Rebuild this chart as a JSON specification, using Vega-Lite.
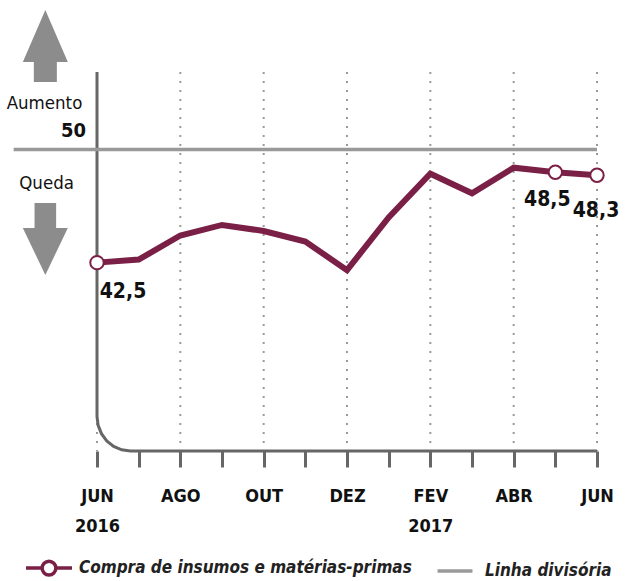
{
  "$schema": "https://vega.github.io/schema/vega-lite/v6.json",
  "width": 500,
  "height": 379,
  "autosize": {"type": "none"},
  "padding": {"left": 97, "top": 72, "right": 29, "bottom": 130},
  "background": "white",
  "config": {
    "view": {"stroke": null},
    "locale": {"number": {"decimal": ",", "thousands": ".", "grouping": [3], "currency": ["R$", ""]}},
    "font": "Liberation Sans Narrow, DejaVu Sans Condensed, Roboto, sans-serif"
  },
  "datasets": {
    "serie": [
      {"m": 0, "v": 42.5, "mes": "jun/2016", "serie": "Compra de insumos e matérias-primas"},
      {"m": 1, "v": 42.7, "mes": "jul/2016", "serie": "Compra de insumos e matérias-primas"},
      {"m": 2, "v": 44.3, "mes": "ago/2016", "serie": "Compra de insumos e matérias-primas"},
      {"m": 3, "v": 45.0, "mes": "set/2016", "serie": "Compra de insumos e matérias-primas"},
      {"m": 4, "v": 44.6, "mes": "out/2016", "serie": "Compra de insumos e matérias-primas"},
      {"m": 5, "v": 43.9, "mes": "nov/2016", "serie": "Compra de insumos e matérias-primas"},
      {"m": 6, "v": 42.0, "mes": "dez/2016", "serie": "Compra de insumos e matérias-primas"},
      {"m": 7, "v": 45.5, "mes": "jan/2017", "serie": "Compra de insumos e matérias-primas"},
      {"m": 8, "v": 48.4, "mes": "fev/2017", "serie": "Compra de insumos e matérias-primas"},
      {"m": 9, "v": 47.1, "mes": "mar/2017", "serie": "Compra de insumos e matérias-primas"},
      {"m": 10, "v": 48.8, "mes": "abr/2017", "serie": "Compra de insumos e matérias-primas"},
      {"m": 11, "v": 48.5, "mes": "mai/2017", "serie": "Compra de insumos e matérias-primas"},
      {"m": 12, "v": 48.3, "mes": "jun/2017", "serie": "Compra de insumos e matérias-primas"}
    ],
    "frame": [
      {"i": 0, "m": 0, "v": 55.15},
      {"i": 1, "m": 0, "v": 32.3},
      {"i": 2, "m": 0.027, "v": 31.7},
      {"i": 3, "m": 0.107, "v": 31.15},
      {"i": 4, "m": 0.234, "v": 30.67},
      {"i": 5, "m": 0.4, "v": 30.31},
      {"i": 6, "m": 0.593, "v": 30.08},
      {"i": 7, "m": 0.8, "v": 30},
      {"i": 8, "m": 12, "v": 30}
    ],
    "grid": [{"m": 0}, {"m": 2}, {"m": 4}, {"m": 6}, {"m": 8}, {"m": 10}, {"m": 12}],
    "divisoria": [{"m": -2, "m2": 12, "v": 50, "serie": "Linha divisória"}],
    "legenda": [
      {"serie": "Compra de insumos e matérias-primas"},
      {"serie": "Linha divisória"}
    ],
    "textos": [
      {"m": -1.26, "v": 53.09, "t": "Aumento"},
      {"m": -1.21, "v": 47.78, "t": "Queda"}
    ],
    "cinquenta": [{"m": -0.264, "v": 51.23, "t": "50"}],
    "seta_cima": [{"m": -1.24, "v": 56.87}],
    "seta_baixo": [{"m": -1.24, "v": 44.07}]
  },
  "encoding": {
    "x": {
      "field": "m",
      "type": "quantitative",
      "scale": {"domain": [0, 12], "nice": false, "zero": false},
      "axis": {
        "title": null,
        "values": [0, 1, 2, 3, 4, 5, 6, 7, 8, 9, 10, 11, 12],
        "domain": false,
        "grid": false,
        "ticks": true,
        "tickSize": 16,
        "tickWidth": 3,
        "tickColor": "#666666",
        "labelExpr": "datum.value == 0 ? ['JUN', '2016'] : datum.value == 2 ? 'AGO' : datum.value == 4 ? 'OUT' : datum.value == 6 ? 'DEZ' : datum.value == 8 ? ['FEV', '2017'] : datum.value == 10 ? 'ABR' : datum.value == 12 ? 'JUN' : ''",
        "labelFontWeight": "bold",
        "labelFontSize": 18,
        "labelColor": "#111111",
        "labelLineHeight": 30,
        "labelPadding": 20,
        "labelBaseline": "top",
        "labelFlush": false,
        "labelOverlap": false
      }
    }
  },
  "layer": [
    {
      "data": {"name": "grid"},
      "mark": {"type": "rule", "stroke": "#9a9a9a", "strokeWidth": 2, "strokeDash": [2, 7]},
      "encoding": {}
    },
    {
      "data": {"name": "frame"},
      "mark": {"type": "line", "stroke": "#666666", "strokeWidth": 3, "clip": false},
      "encoding": {
        "y": {"field": "v", "type": "quantitative", "scale": {"domain": [30, 55.15], "nice": false, "zero": false}, "axis": null},
        "order": {"field": "i", "type": "quantitative"}
      }
    },
    {
      "data": {"name": "divisoria"},
      "mark": {"type": "rule", "strokeWidth": 3.5, "clip": false},
      "encoding": {
        "x2": {"field": "m2"},
        "y": {"field": "v", "type": "quantitative"},
        "color": {
          "field": "serie",
          "type": "nominal",
          "scale": {"domain": ["Compra de insumos e matérias-primas", "Linha divisória"], "range": ["#7a1f45", "#999999"]}
        }
      }
    },
    {
      "data": {"name": "serie"},
      "mark": {"type": "line", "strokeWidth": 6, "strokeJoin": "miter"},
      "encoding": {
        "y": {"field": "v", "type": "quantitative"},
        "color": {"field": "serie", "type": "nominal"}
      }
    },
    {
      "data": {"name": "serie"},
      "transform": [{"filter": "datum.m == 0 || datum.m >= 11"}],
      "mark": {"type": "point", "shape": "circle", "filled": true, "fill": "white", "stroke": "#7a1f45", "strokeWidth": 2, "size": 180, "opacity": 1},
      "encoding": {"y": {"field": "v", "type": "quantitative"}}
    },
    {
      "data": {"name": "serie"},
      "transform": [{"filter": "datum.m == 0"}],
      "mark": {"type": "text", "fontWeight": "bold", "fontSize": 21, "color": "#111111", "align": "center", "baseline": "middle", "dx": 26, "dy": 29},
      "encoding": {"y": {"field": "v", "type": "quantitative"}, "text": {"field": "v", "type": "quantitative", "format": ".1f"}}
    },
    {
      "data": {"name": "serie"},
      "transform": [{"filter": "datum.m == 11"}],
      "mark": {"type": "text", "fontWeight": "bold", "fontSize": 21, "color": "#111111", "align": "center", "baseline": "middle", "dx": -8, "dy": 28},
      "encoding": {"y": {"field": "v", "type": "quantitative"}, "text": {"field": "v", "type": "quantitative", "format": ".1f"}}
    },
    {
      "data": {"name": "serie"},
      "transform": [{"filter": "datum.m == 12"}],
      "mark": {"type": "text", "fontWeight": "bold", "fontSize": 21, "color": "#111111", "align": "center", "baseline": "middle", "dx": -1, "dy": 36},
      "encoding": {"y": {"field": "v", "type": "quantitative"}, "text": {"field": "v", "type": "quantitative", "format": ".1f"}}
    },
    {
      "data": {"name": "textos"},
      "mark": {"type": "text", "fontSize": 18.5, "color": "#111111", "align": "center", "baseline": "middle"},
      "encoding": {"y": {"field": "v", "type": "quantitative"}, "text": {"field": "t"}}
    },
    {
      "data": {"name": "cinquenta"},
      "mark": {"type": "text", "fontWeight": "bold", "fontSize": 20, "color": "#111111", "align": "right", "baseline": "middle"},
      "encoding": {"y": {"field": "v", "type": "quantitative"}, "text": {"field": "t"}}
    },
    {
      "data": {"name": "seta_cima"},
      "mark": {"type": "point", "shape": "M0,-1 L0.625,0.444 L0.32,0.444 L0.32,1 L-0.32,1 L-0.32,0.444 L-0.625,0.444 Z", "filled": true, "fill": "#8c8c8c", "strokeWidth": 0, "size": 5184, "opacity": 1},
      "encoding": {"y": {"field": "v", "type": "quantitative"}}
    },
    {
      "data": {"name": "seta_baixo"},
      "mark": {"type": "point", "shape": "M0,1 L0.625,-0.306 L0.3,-0.306 L0.3,-1 L-0.3,-1 L-0.3,-0.306 L-0.625,-0.306 Z", "filled": true, "fill": "#8c8c8c", "strokeWidth": 0, "size": 5184, "opacity": 1},
      "encoding": {"y": {"field": "v", "type": "quantitative"}}
    },
    {
      "data": {"name": "legenda"},
      "mark": {"type": "point", "filled": false, "opacity": 0, "size": 2116},
      "encoding": {
        "x": {"datum": 6},
        "y": {"datum": 40},
        "color": {
          "field": "serie",
          "type": "nominal",
          "legend": {
            "title": null,
            "orient": "none",
            "legendX": -73,
            "legendY": 471,
            "direction": "horizontal",
            "padding": 0,
            "symbolSize": 2116,
            "symbolStrokeWidth": 3.5,
            "labelFontWeight": "bold",
            "labelFontStyle": "italic",
            "labelFontSize": 17,
            "labelColor": "#222222",
            "labelOffset": 5,
            "columnPadding": 18,
            "labelLimit": 500,
            "encode": {
              "symbols": {"update": {"fill": {"value": "white"}, "strokeWidth": {"value": 3.5}, "opacity": {"value": 1}}}
            }
          }
        },
        "shape": {
          "field": "serie",
          "type": "nominal",
          "scale": {
            "domain": ["Compra de insumos e matérias-primas", "Linha divisória"],
            "range": ["M-1,0 L-0.3,0 M0.3,0 L1,0 M-0.3,0 A0.3,0.3 0 1,0 0.3,0 A0.3,0.3 0 1,0 -0.3,0 Z", "M-0.76,0 L0.76,0"]
          },
          "legend": {
            "title": null,
            "orient": "none",
            "legendX": -73,
            "legendY": 471,
            "direction": "horizontal",
            "padding": 0,
            "symbolSize": 2116,
            "symbolStrokeWidth": 3.5,
            "labelFontWeight": "bold",
            "labelFontStyle": "italic",
            "labelFontSize": 17,
            "labelColor": "#222222",
            "labelOffset": 5,
            "columnPadding": 18,
            "labelLimit": 500,
            "encode": {
              "symbols": {"update": {"fill": {"value": "white"}, "strokeWidth": {"value": 3.5}, "opacity": {"value": 1}}}
            }
          }
        }
      }
    }
  ]
}
